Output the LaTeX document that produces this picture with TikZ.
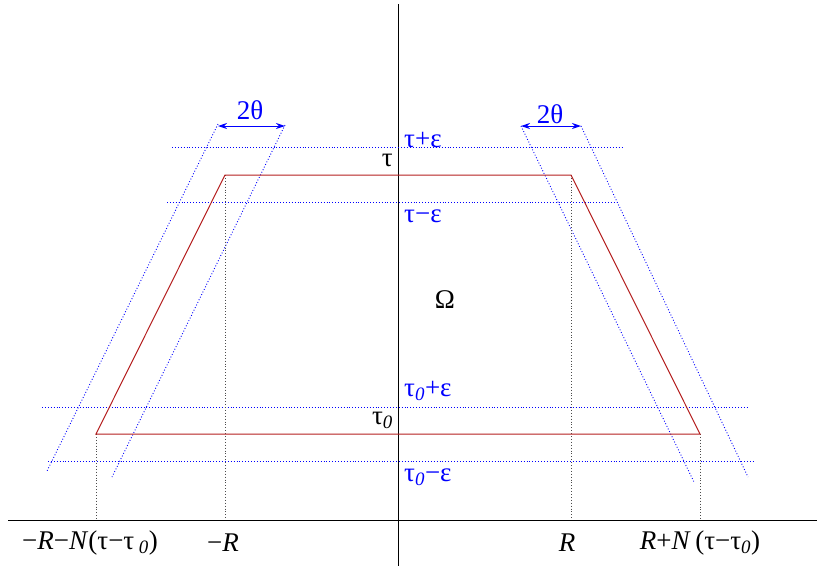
\documentclass[tikz,border=0pt]{standalone}
\usepackage{fontspec}
\setmainfont{Liberation Serif}
\usetikzlibrary{arrows.meta}
\definecolor{trapred}{RGB}{180,30,30}
\tikzset{
  guide/.style={blue, dotted, line width=0.9pt},
  drop/.style={black!70, dotted, line width=0.9pt},
  bluelbl/.style={blue, inner sep=0pt},
  blacklbl/.style={black, inner sep=0pt},
  span/.style={blue, line width=1pt, {Stealth[length=9pt,width=6pt,inset=3pt]}-{Stealth[length=9pt,width=6pt,inset=3pt]}}
}
\begin{document}
\begin{tikzpicture}[x=1pt, y=-1pt, font=\fontsize{27}{31}\selectfont]
  \useasboundingbox (0,0) rectangle (817,566);
  % axes
  \coordinate (xl) at (8,520);
  \coordinate (xr) at (817,520);
  \coordinate (yt) at (398,4);
  \coordinate (yb) at (398,566);
  \draw[line width=0.8pt] (xl) -- (xr);
  \draw[line width=0.8pt] (yt) -- (yb);
  % corners of the region
  \coordinate (tl) at (225,175);
  \coordinate (tr) at (571,175);
  \coordinate (bl) at (96,434);
  \coordinate (br) at (700,434);
  \coordinate (tlx) at (225,520);
  \coordinate (trx) at (571,520);
  \coordinate (blx) at (96,520);
  \coordinate (brx) at (700,520);
  % levels tau +- eps, tau0 +- eps
  \coordinate (a1) at (172,147); \coordinate (a2) at (623,147);
  \coordinate (b1) at (167,202); \coordinate (b2) at (617,202);
  \coordinate (c1) at (42,407);  \coordinate (c2) at (748,407);
  \coordinate (d1) at (48,461);  \coordinate (d2) at (753,461);
  \draw[guide] (a1) -- (a2);
  \draw[guide] (b1) -- (b2);
  \draw[guide] (c1) -- (c2);
  \draw[guide] (d1) -- (d2);
  % cone of angle 2theta
  \coordinate (l1t) at (218,124); \coordinate (l1b) at (47,471);
  \coordinate (l2t) at (285,125); \coordinate (l2b) at (112,477);
  \coordinate (r1t) at (521,126); \coordinate (r1b) at (694,482);
  \coordinate (r2t) at (581,126); \coordinate (r2b) at (748,477);
  \draw[guide] (l1t) -- (l1b);
  \draw[guide] (l2t) -- (l2b);
  \draw[guide] (r1t) -- (r1b);
  \draw[guide] (r2t) -- (r2b);
  \draw[span] (l1t |- 0,126) coordinate (la) -- (l2t |- 0,126) coordinate (lb);
  \draw[span] (r1t) coordinate (ra) -- (r2t) coordinate (rb);
  \node[bluelbl] (lth) at (250,110) {2θ};
  \node[bluelbl] (rth) at (550,114) {2θ};
  % drops to the axis
  \draw[drop] (tl) -- (tlx);
  \draw[drop] (tr) -- (trx);
  \draw[drop] (bl) -- (blx);
  \draw[drop] (br) -- (brx);
  % the region
  \draw[trapred, line width=1pt] (bl) -- (tl) -- (tr) -- (br) -- cycle;
  % labels
  \node[blacklbl, anchor=east] (tau) at (393,160) {τ};
  \node[blacklbl, anchor=east] (tau0) at (393,420) {τ\textsubscript{\textit{0}}};
  \node[bluelbl, anchor=west] (tpe) at (404,140) {τ+ε};
  \node[bluelbl, anchor=west] (tme) at (404,216) {τ−ε};
  \node[bluelbl, anchor=west] (t0pe) at (404,391) {τ\textsubscript{\textit{0}}+ε};
  \node[bluelbl, anchor=west] (t0me) at (404,477) {τ\textsubscript{\textit{0}}−ε};
  \node[blacklbl] (om) at (445,300) {Ω};
  \node[blacklbl] (xa) at (90,543) {−\textit{R}−\textit{N}(τ−τ\,\textsubscript{\textit{0}})};
  \node[blacklbl] (xb) at (223,543) {−\textit{R}};
  \node[blacklbl] (xc) at (567,543) {\textit{R}};
  \node[blacklbl] (xd) at (700,543) {\textit{R}+\textit{N}\,(τ−τ\textsubscript{\textit{0}})};
\end{tikzpicture}
\end{document}
